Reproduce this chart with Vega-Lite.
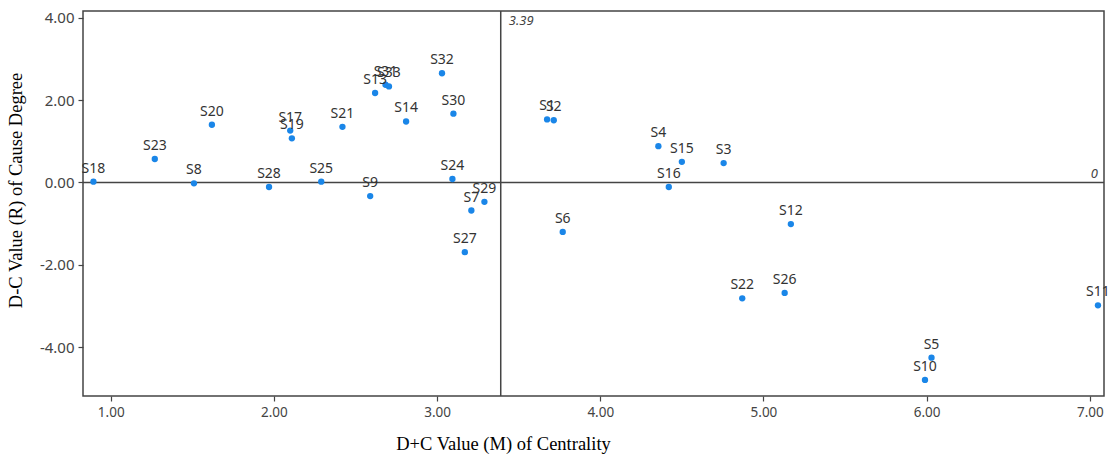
{
  "$schema": "https://vega.github.io/schema/vega-lite/v6.json",
  "width": 1021,
  "height": 385,
  "autosize": {"type": "none"},
  "padding": {"left": 83, "top": 11, "right": 8, "bottom": 61},
  "background": "white",
  "config": {
    "view": {"stroke": "#444444", "strokeWidth": 1.5},
    "axis": {
      "grid": false,
      "domain": false,
      "tickColor": "#444444",
      "tickSize": 5,
      "tickWidth": 1.2,
      "labelFont": "Noto Sans",
      "labelFontSize": 13.5,
      "labelColor": "#444444",
      "titleFont": "Liberation Serif",
      "titleFontSize": 18.5,
      "titleFontWeight": "normal",
      "titleColor": "#000000"
    }
  },
  "datasets": {
    "pts": [
      {"id": "S1", "m": 3.674, "r": 1.53},
      {"id": "S2", "m": 3.715, "r": 1.51},
      {"id": "S3", "m": 4.756, "r": 0.47},
      {"id": "S4", "m": 4.356, "r": 0.88},
      {"id": "S5", "m": 6.03, "r": -4.25},
      {"id": "S6", "m": 3.77, "r": -1.2},
      {"id": "S7", "m": 3.21, "r": -0.68},
      {"id": "S8", "m": 1.51, "r": -0.02},
      {"id": "S9", "m": 2.59, "r": -0.33},
      {"id": "S10", "m": 5.99, "r": -4.79},
      {"id": "S11", "m": 7.05, "r": -2.98},
      {"id": "S12", "m": 5.168, "r": -1.01},
      {"id": "S13", "m": 2.62, "r": 2.17},
      {"id": "S14", "m": 2.81, "r": 1.48},
      {"id": "S15", "m": 4.5, "r": 0.5},
      {"id": "S16", "m": 4.42, "r": -0.11},
      {"id": "S17", "m": 2.1, "r": 1.26},
      {"id": "S18", "m": 0.894, "r": 0.02},
      {"id": "S19", "m": 2.11, "r": 1.07},
      {"id": "S20", "m": 1.62, "r": 1.4},
      {"id": "S21", "m": 2.42, "r": 1.35},
      {"id": "S22", "m": 4.87, "r": -2.81},
      {"id": "S23", "m": 1.27, "r": 0.57},
      {"id": "S24", "m": 3.094, "r": 0.085},
      {"id": "S25", "m": 2.29, "r": 0.02},
      {"id": "S26", "m": 5.13, "r": -2.68},
      {"id": "S27", "m": 3.17, "r": -1.69},
      {"id": "S28", "m": 1.97, "r": -0.11},
      {"id": "S29", "m": 3.29, "r": -0.47},
      {"id": "S30", "m": 3.1, "r": 1.67},
      {"id": "S31", "m": 2.684, "r": 2.37},
      {"id": "S32", "m": 3.03, "r": 2.65},
      {"id": "S33", "m": 2.705, "r": 2.33}
    ]
  },
  "layer": [
    {
      "data": {"values": [{"m": 3.39}]},
      "mark": {"type": "rule", "color": "#444444", "strokeWidth": 1.5},
      "encoding": {"x": {"field": "m", "type": "quantitative"}}
    },
    {
      "data": {"values": [{"r": 0}]},
      "mark": {"type": "rule", "color": "#444444", "strokeWidth": 1.5},
      "encoding": {"y": {"field": "r", "type": "quantitative"}}
    },
    {
      "data": {"values": [{"m": 3.39, "r": 4.16, "label": "3.39"}]},
      "mark": {"type": "text", "align": "left", "baseline": "top", "dx": 8, "dy": 4, "font": "Noto Sans", "fontStyle": "italic", "fontSize": 13, "color": "#444444"},
      "encoding": {
        "x": {"field": "m", "type": "quantitative"},
        "y": {"field": "r", "type": "quantitative"},
        "text": {"field": "label"}
      }
    },
    {
      "data": {"values": [{"m": 7.087, "r": 0, "label": "0"}]},
      "mark": {"type": "text", "align": "right", "baseline": "alphabetic", "dx": -6, "dy": -4, "font": "Noto Sans", "fontStyle": "italic", "fontSize": 13, "color": "#444444"},
      "encoding": {
        "x": {"field": "m", "type": "quantitative"},
        "y": {"field": "r", "type": "quantitative"},
        "text": {"field": "label"}
      }
    },
    {
      "data": {"name": "pts"},
      "mark": {"type": "circle", "size": 40, "color": "#1a86e8", "opacity": 1},
      "encoding": {
        "x": {
          "field": "m", "type": "quantitative",
          "scale": {"domain": [0.83, 7.087], "nice": false, "zero": false},
          "axis": {"values": [1, 2, 3, 4, 5, 6, 7], "format": ".2f", "labelPadding": 4, "title": "D+C Value (M) of Centrality", "titlePadding": 16, "titleX": 420}
        },
        "y": {
          "field": "r", "type": "quantitative",
          "scale": {"domain": [-5.18, 4.16], "nice": false, "zero": false},
          "axis": {"values": [-4, -2, 0, 2, 4], "labelExpr": "replace(format(datum.value, '.2f'), '\u2212', '-')", "labelFontSize": 15, "labelPadding": 4, "title": "D-C Value (R) of Cause Degree", "titlePadding": 14, "titleY": 179}
        }
      }
    },
    {
      "data": {"name": "pts"},
      "mark": {"type": "text", "baseline": "alphabetic", "dy": -9, "font": "Noto Sans", "fontSize": 14, "color": "#333333"},
      "encoding": {
        "x": {"field": "m", "type": "quantitative"},
        "y": {"field": "r", "type": "quantitative"},
        "text": {"field": "id"}
      }
    }
  ]
}
